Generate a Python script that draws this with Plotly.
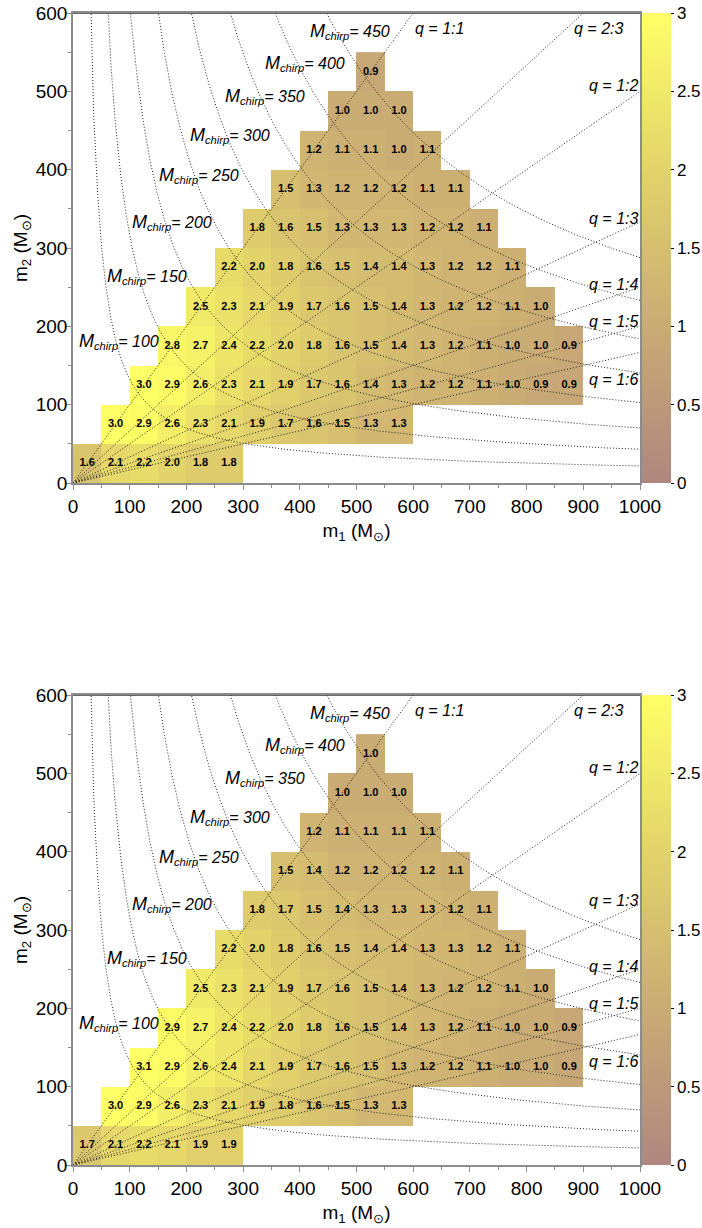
import numpy as np
import plotly.graph_objects as go

W, H = 702, 1228

# ---- bins (solar masses) ----
m1_centers = list(range(25, 900, 50))   # 18 columns, 0..900
m2_centers = list(range(25, 550, 50))   # 11 rows, 0..550
row_first_col = [0, 1, 2, 3, 4, 5, 6, 7, 8, 9, 10]  # first populated m1 bin in each m2 row

# ---- values per m2 row (upper panel) ----
top_rows = [
    [1.6, 2.1, 2.2, 2.0, 1.8, 1.8],
    [3.0, 2.9, 2.6, 2.3, 2.1, 1.9, 1.7, 1.6, 1.5, 1.3, 1.3],
    [3.0, 2.9, 2.6, 2.3, 2.1, 1.9, 1.7, 1.6, 1.4, 1.3, 1.2, 1.2, 1.1, 1.0, 0.9, 0.9],
    [2.8, 2.7, 2.4, 2.2, 2.0, 1.8, 1.6, 1.5, 1.4, 1.3, 1.2, 1.1, 1.0, 1.0, 0.9],
    [2.5, 2.3, 2.1, 1.9, 1.7, 1.6, 1.5, 1.4, 1.3, 1.2, 1.2, 1.1, 1.0],
    [2.2, 2.0, 1.8, 1.6, 1.5, 1.4, 1.4, 1.3, 1.2, 1.2, 1.1],
    [1.8, 1.6, 1.5, 1.3, 1.3, 1.3, 1.2, 1.2, 1.1],
    [1.5, 1.3, 1.2, 1.2, 1.2, 1.1, 1.1],
    [1.2, 1.1, 1.1, 1.0, 1.1],
    [1.0, 1.0, 1.0],
    [0.9],
]

# ---- values per m2 row (lower panel) ----
bottom_rows = [
    [1.7, 2.1, 2.2, 2.1, 1.9, 1.9],
    [3.0, 2.9, 2.6, 2.3, 2.1, 1.9, 1.8, 1.6, 1.5, 1.3, 1.3],
    [3.1, 2.9, 2.6, 2.4, 2.1, 1.9, 1.7, 1.6, 1.5, 1.3, 1.2, 1.2, 1.1, 1.0, 1.0, 0.9],
    [2.9, 2.7, 2.4, 2.2, 2.0, 1.8, 1.6, 1.5, 1.4, 1.3, 1.2, 1.1, 1.0, 1.0, 0.9],
    [2.5, 2.3, 2.1, 1.9, 1.7, 1.6, 1.5, 1.4, 1.3, 1.2, 1.2, 1.1, 1.0],
    [2.2, 2.0, 1.8, 1.6, 1.5, 1.4, 1.4, 1.3, 1.3, 1.2, 1.1],
    [1.8, 1.7, 1.5, 1.4, 1.3, 1.3, 1.3, 1.2, 1.1],
    [1.5, 1.4, 1.2, 1.2, 1.2, 1.2, 1.1],
    [1.2, 1.1, 1.1, 1.1, 1.1],
    [1.0, 1.0, 1.0],
    [1.0],
]

# ---- guide curves ----
chirp_masses = [100, 150, 200, 250, 300, 350, 400, 450]
mass_ratios = [1.0, 2 / 3, 1 / 2, 1 / 3, 1 / 4, 1 / 5, 1 / 6]

# label anchors (left edge, vertical centre) in data units
chirp_label_m1 = [7, 56, 100, 148, 203, 265, 335, 414]
chirp_label_m2 = [181, 264, 332, 393, 443, 494, 535, 577]
ratio_labels = ["q = 1:1", "q = 2:3", "q = 1:2", "q = 1:3", "q = 1:4", "q = 1:5", "q = 1:6"]
ratio_label_m1 = [600, 880, 906, 906, 906, 906, 906]
ratio_label_m2 = [580, 580, 507, 338, 253, 206, 132]

colorscale = [
    [0.0, "#b0867f"],
    [1 / 3, "#c9ab74"],
    [2 / 3, "#e2d36a"],
    [1.0, "#ffff66"],
]

FONT = "Liberation Sans, Arial, Helvetica, sans-serif"
TICK_FONT = dict(size=19, color="black", family=FONT)

# pixel layout of the two panels
PLOT_L, PLOT_R = 73, 640
CBAR_L, CBAR_W = 642, 29
panels = [
    dict(rows=top_rows, top=13, bottom=483, ax=""),
    dict(rows=bottom_rows, top=695, bottom=1165, ax="2"),
]


def build_grid(rows):
    z = [[None] * len(m1_centers) for _ in m2_centers]
    for r, vals in enumerate(rows):
        start = row_first_col[r]
        for k, v in enumerate(vals):
            z[r][start + k] = v
    return z


def cell_labels(rows):
    xs, ys, txt = [], [], []
    for r, vals in enumerate(rows):
        start = row_first_col[r]
        for k, v in enumerate(vals):
            xs.append(m1_centers[start + k])
            ys.append(m2_centers[r])
            txt.append(f"<b>{v:.1f}</b>")
    return xs, ys, txt


def chirp_curve(mc):
    q = np.geomspace(0.004, 250, 900)
    m1 = mc * (1 + q) ** 0.2 * q ** -0.6
    return m1, q * m1


fig = go.Figure()

for p in panels:
    ax = p["ax"]
    xa, ya = "x" + ax, "y" + ax
    ycen = 1 - (p["top"] + p["bottom"]) / 2 / H
    fig.add_trace(go.Heatmap(
        x=m1_centers, y=m2_centers, z=build_grid(p["rows"]),
        colorscale=colorscale, zmin=0, zmax=3, hoverongaps=False,
        xaxis=xa, yaxis=ya,
        colorbar=dict(
            x=CBAR_L / W, xanchor="left", xpad=0, ypad=0,
            y=ycen, yanchor="middle", len=(p["bottom"] - p["top"]) / H, lenmode="fraction",
            thickness=CBAR_W, outlinewidth=0,
            tickvals=[0, 0.5, 1, 1.5, 2, 2.5, 3],
            ticktext=["0", "0.5", "1", "1.5", "2", "2.5", "3"],
            ticks="outside", ticklen=3, tickcolor="black", tickwidth=1,
            tickfont=dict(size=17, color="black", family=FONT),
        ),
    ))

    line_style = dict(color="#222222", width=1, dash="1px,2px")
    for mc in chirp_masses:
        cx, cy = chirp_curve(mc)
        fig.add_trace(go.Scatter(x=cx, y=cy, mode="lines", line=line_style,
                                 xaxis=xa, yaxis=ya, showlegend=False, hoverinfo="skip"))
    for q in mass_ratios:
        qx = np.array([0.0, 1000.0])
        fig.add_trace(go.Scatter(x=qx, y=q * qx, mode="lines", line=line_style,
                                 xaxis=xa, yaxis=ya, showlegend=False, hoverinfo="skip"))

    lx, ly, lt = cell_labels(p["rows"])
    fig.add_trace(go.Scatter(x=lx, y=ly, text=lt, mode="text",
                             textfont=dict(size=11, color="black", family=FONT),
                             xaxis=xa, yaxis=ya, showlegend=False, hoverinfo="skip"))

    for mc, ax_, ay_ in zip(chirp_masses, chirp_label_m1, chirp_label_m2):
        fig.add_annotation(x=ax_, y=ay_, xref=xa, yref=ya, xanchor="left", yanchor="middle",
                           text=f"<i><span style='font-size:18px'>M</span><sub>chirp</sub>= {mc}</i>",
                           showarrow=False, font=dict(size=16, color="black", family=FONT))
    for lab, ax_, ay_ in zip(ratio_labels, ratio_label_m1, ratio_label_m2):
        fig.add_annotation(x=ax_, y=ay_, xref=xa, yref=ya, xanchor="left", yanchor="middle",
                           text=f"<i>{lab}</i>", showarrow=False,
                           font=dict(size=16, color="black", family=FONT))

    # dark upper frame edge
    fig.add_shape(type="line", x0=0, x1=1000, y0=600, y1=600, xref=xa, yref=ya,
                  line=dict(color="#333333", width=1.3))

    axis_common = dict(
        showgrid=False, zeroline=False, showline=True, linecolor="#8c8c8c", linewidth=1.5,
        mirror=True, ticks="outside", ticklen=5, tickcolor="#8c8c8c", tickwidth=1,
        tickfont=TICK_FONT, automargin=False,
    )
    fig.layout["xaxis" + ax] = dict(
        axis_common, domain=[PLOT_L / W, PLOT_R / W], range=[0, 1000], dtick=100, tick0=0,
        minor=dict(dtick=50, ticks="outside", ticklen=3, tickcolor="#8c8c8c"),
        anchor=ya,
        title=dict(text="m<sub>1</sub> (M<sub>⊙</sub>)", standoff=8,
                   font=dict(size=19, color="black", family=FONT)),
    )
    fig.layout["yaxis" + ax] = dict(
        axis_common, domain=[1 - p["bottom"] / H, 1 - p["top"] / H], range=[0, 600],
        dtick=100, tick0=0,
        minor=dict(dtick=50, ticks="outside", ticklen=3, tickcolor="#8c8c8c"),
        anchor=xa, ticklabelstandoff=-5,
        title=dict(text="m<sub>2</sub> (M<sub>⊙</sub>)", standoff=3,
                   font=dict(size=19, color="black", family=FONT)),
    )

fig.update_layout(
    width=W, height=H, autosize=False,
    margin=dict(l=0, r=0, t=0, b=0, autoexpand=False),
    paper_bgcolor="white", plot_bgcolor="white",
    showlegend=False,
)

fig.write_html("out.html")
